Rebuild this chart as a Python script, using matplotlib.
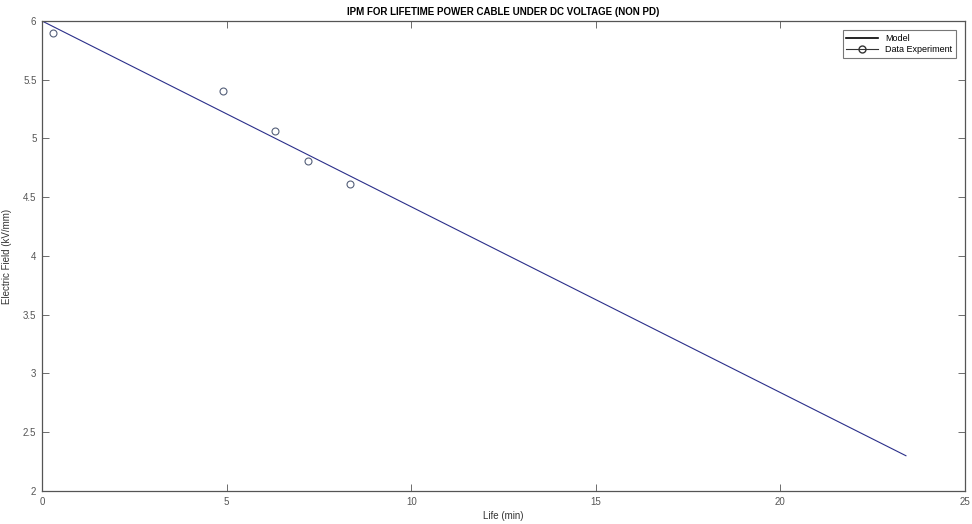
import matplotlib.pyplot as plt

# data
model_life = [0.0, 23.4]
model_field = [6.0, 2.3]
exp_life = [0.3, 4.9, 6.3, 7.2, 8.35]
exp_field = [5.9, 5.4, 5.06, 4.81, 4.61]

x_ticks = [0, 5, 10, 15, 20, 25]
y_ticks = [2, 2.5, 3, 3.5, 4, 4.5, 5, 5.5, 6]

plt.rcParams['font.family'] = ['Liberation Sans', 'DejaVu Sans']

fig = plt.figure(figsize=(9.72, 5.24), dpi=100, facecolor='white')
ax = fig.add_axes([0.0432, 0.063, 0.9496, 0.897])

# model line (navy) and measured points (open circles)
ax.plot(model_life, model_field, color='#2b2f8a', lw=0.8)
ax.plot(exp_life, exp_field, linestyle='none', marker='o', ms=5,
        mfc='none', mec='#55607a', mew=0.8)

# legend handles as in the original figure
h1, = ax.plot([], [], color='black', lw=1.2, label='Model')
h2, = ax.plot([], [], color='#333333', lw=0.8, marker='o', ms=5,
              mfc='none', label='Data Experiment')
leg = ax.legend(handles=[h1, h2], loc='upper right', fontsize=6.5,
                frameon=True, fancybox=False, edgecolor='#555555',
                handlelength=3.5, borderpad=0.4, labelspacing=0.3,
                bbox_to_anchor=(0.995, 0.99))
leg.get_frame().set_linewidth(0.8)

ax.set_xlim(0, 25)
ax.set_ylim(2, 6)
ax.set_xticks(x_ticks)
ax.set_yticks(y_ticks)
ax.set_xticklabels([str(t) for t in x_ticks])
ax.set_yticklabels(['2', '2.5', '3', '3.5', '4', '4.5', '5', '5.5', '6'])
ax.tick_params(direction='in', top=True, right=True, length=5, width=0.6,
               colors='#555555', labelsize=7, pad=4)
for s in ax.spines.values():
    s.set_color('#555555')
    s.set_linewidth(0.9)

ax.set_xlabel('Life (min)', fontsize=7, color='#333333', labelpad=3)
ax.set_ylabel('Electric Field (kV/mm)', fontsize=7, color='#333333', labelpad=8)
ax.set_title('IPM FOR LIFETIME POWER CABLE UNDER DC VOLTAGE (NON PD)',
             fontsize=7, fontweight='bold', pad=4)

fig.savefig('out.png', dpi=100)
